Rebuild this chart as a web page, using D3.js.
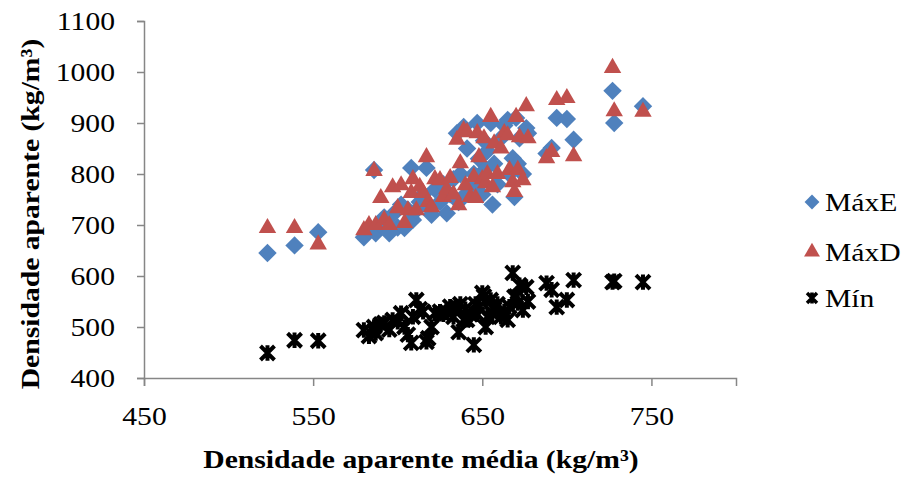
<!DOCTYPE html>
<html>
<head>
<meta charset="utf-8">
<script src="https://cdn.jsdelivr.net/npm/d3@7"></script>
<style>
  html, body { margin: 0; padding: 0; background: #fff; }
  svg { display: block; }
  text { font-family: "Liberation Serif", "Times New Roman", serif; fill: #000; }
</style>
</head>
<body>
<svg id="chart" width="909" height="480"></svg>
<script>
// Average apparent density (x) for each sample
const mediaValues = [523, 539, 553, 580, 583, 586, 587, 590, 592, 595, 597, 600, 602, 604, 606, 608, 609, 611, 613, 615,
  617, 618, 620, 622, 625, 627, 629, 631, 633, 635, 636, 637, 639, 640, 641, 643, 645, 646, 647, 648,
  650, 651, 652, 653, 655, 656, 657, 659, 661, 663, 665, 666, 668, 669, 670, 671, 672, 674, 676, 677,
  688, 691, 694, 700, 704, 727, 728, 745];
const maxEValues = [645, 660, 686, 676, 690, 808, 684, 700, 715, 684, 720, 695, 740, 694, 730, 812, 710, 729, 745, 760,
  812, 735, 720, 770, 745, 780, 723, 760, 790, 880, 745, 800, 892, 760, 850, 770, 800, 780, 900, 830,
  760, 865, 810, 845, 900, 740, 820, 780, 870, 895, 906, 800, 831, 755, 910, 820, 870, 800, 890, 880,
  840, 851, 910, 908, 867, 963, 900, 933];
const maxDValues = [694, 694, 662, 690, 700, 806, 700, 753, 710, 700, 774, 733, 778, 704, 729, 763, 790, 729, 775, 763,
  833, 745, 735, 790, 788, 755, 770, 792, 760, 867, 739, 821, 886, 778, 882, 755, 794, 753, 880, 833,
  790, 870, 782, 800, 912, 774, 860, 800, 850, 880, 876, 808, 784, 765, 912, 808, 872, 788, 933, 870,
  831, 843, 945, 949, 835, 1008, 923, 922];
const minValues = [449, 474, 473, 494, 482, 500, 488, 505, 508, 495, 514, 510, 527, 500, 485, 469, 520, 553, 535, 530,
  471, 478, 500, 527, 530, 525, 529, 540, 520, 539, 490, 545, 514, 535, 514, 525, 465, 545, 525, 539,
  567, 560, 500, 520, 553, 527, 535, 545, 520, 530, 514, 540, 606, 559, 560, 547, 582, 533, 578, 550,
  586, 573, 539, 553, 592, 588, 590, 588];

const seriesNames = ["MáxE", "MáxD", "Mín"];
const xTickValues = [450, 550, 650, 750];
const yTickValues = [400, 500, 600, 700, 800, 900, 1000, 1100];
const xTitle = "Densidade aparente média (kg/m³)";
const yTitle = "Densidade aparente (kg/m³)";

const svg = d3.select("#chart");
const x = d3.scaleLinear().domain([450, 800]).range([144, 736]);
const y = d3.scaleLinear().domain([400, 1100]).range([378, 21]);
const axisColor = "#868686";
const STRETCH = 1.14;

// Axes
const gx = svg.append("g").attr("transform", `translate(0,${y(400)})`)
  .call(d3.axisBottom(x).tickValues(xTickValues).tickSize(8).tickFormat(d3.format("d")));
const gy = svg.append("g").attr("transform", `translate(${x(450)},0)`)
  .call(d3.axisLeft(y).tickValues(yTickValues).tickSize(7).tickFormat(d3.format("d")));
[gx, gy].forEach(g => {
  g.select(".domain").attr("stroke", axisColor).attr("stroke-width", 1.5);
  g.selectAll(".tick line").attr("stroke", axisColor).attr("stroke-width", 1.5);
  g.selectAll(".tick text").attr("font-family", "Liberation Serif, serif").attr("font-size", 26).attr("fill", "#000");
});
gx.selectAll(".tick text").attr("x", 0).attr("y", 0).attr("dy", 0)
  .attr("transform", `translate(0,47) scale(${STRETCH},1)`);
gy.selectAll(".tick text").attr("x", 0).attr("y", 0).attr("dy", "0.34em")
  .attr("transform", `translate(-29,0) scale(${STRETCH},1)`);

// Markers
const diamond = d3.symbol().type(d3.symbolSquare).size(170)();
const triangle = d3.symbol().type(d3.symbolTriangle).size(132)();
function starPath(r) {
  return `M${-r},${-r}L${r},${r}M${-r},${r}L${r},${-r}M0,${-r*1.1}L0,${r*1.1}`;
}

const data = mediaValues.map((m, i) => ({ m, e: maxEValues[i], d: maxDValues[i], n: minValues[i] }));

svg.append("g").selectAll("path").data(data).join("path")
  .attr("d", diamond)
  .attr("transform", d => `translate(${x(d.m)},${y(d.e)}) rotate(45)`)
  .attr("fill", "#4F81BD");

svg.append("g").selectAll("path").data(data).join("path")
  .attr("d", triangle)
  .attr("transform", d => `translate(${x(d.m)},${y(d.d)})`)
  .attr("fill", "#C0504D");

svg.append("g").selectAll("path").data(data).join("path")
  .attr("d", starPath(7))
  .attr("transform", d => `translate(${x(d.m)},${y(d.n)})`)
  .attr("fill", "none").attr("stroke", "#000").attr("stroke-width", 4);

// Axis titles
svg.append("text").attr("transform", `translate(421,468) scale(${STRETCH},1)`).attr("text-anchor", "middle")
  .attr("font-size", 26).attr("font-weight", "bold").text(xTitle);
svg.append("text").attr("transform", `translate(39,214) rotate(-90) scale(${STRETCH},1)`).attr("text-anchor", "middle")
  .attr("font-size", 26).attr("font-weight", "bold").text(yTitle);

// Legend
const legendY = [202, 252, 298];
const lg = svg.append("g");
lg.append("path").attr("d", d3.symbol().type(d3.symbolSquare).size(110)())
  .attr("transform", `translate(812,${legendY[0]}) rotate(45)`).attr("fill", "#4F81BD");
lg.append("path").attr("d", d3.symbol().type(d3.symbolTriangle).size(110)())
  .attr("transform", `translate(812,${legendY[1]})`).attr("fill", "#C0504D");
lg.append("path").attr("d", starPath(5))
  .attr("transform", `translate(812,${legendY[2]})`).attr("fill", "none").attr("stroke", "#000").attr("stroke-width", 3.5);
seriesNames.forEach((s, i) => {
  lg.append("text").attr("transform", `translate(825,${legendY[i]}) scale(${STRETCH},1)`).attr("dy", "0.35em")
    .attr("font-size", 26).text(s);
});
</script>
</body>
</html>
